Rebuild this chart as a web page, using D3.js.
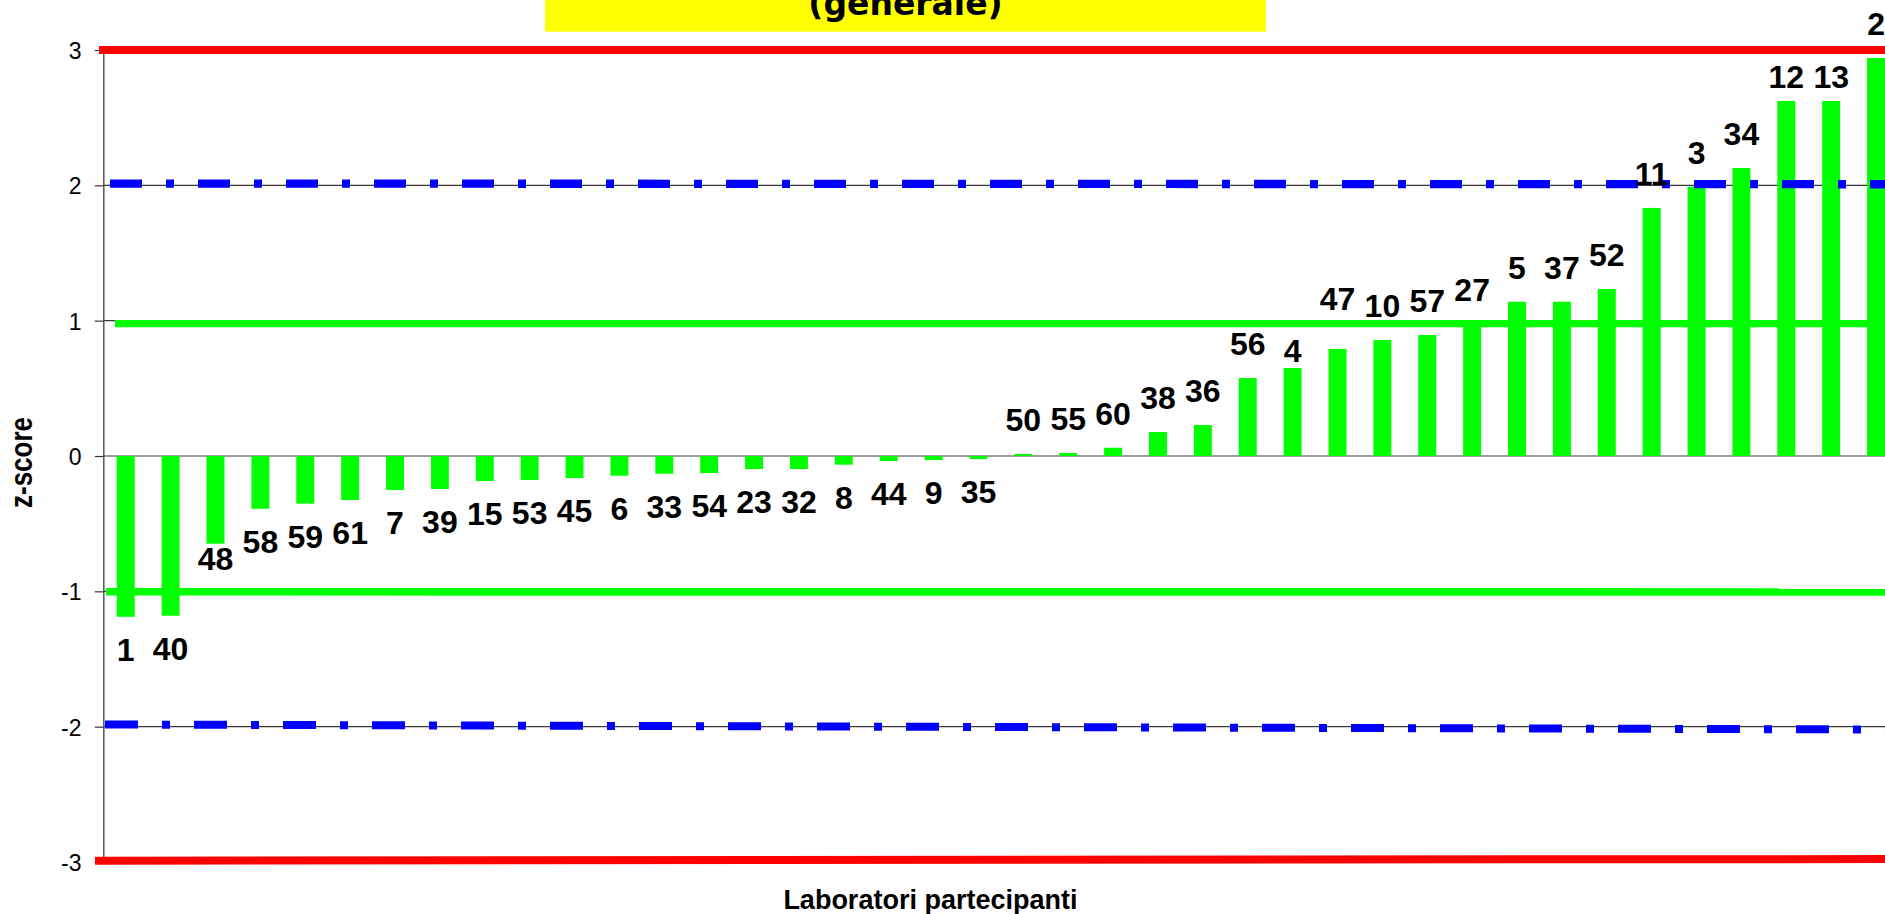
<!DOCTYPE html>
<html>
<head>
<meta charset="utf-8">
<script src="https://cdn.jsdelivr.net/npm/d3@7"></script>
<style>
  html, body { margin: 0; padding: 0; background: #ffffff; overflow: hidden; }
  svg { display: block; }
</style>
</head>
<body>
<svg id="chart" width="1885" height="914"></svg>
<script>
// Participating laboratories, sorted by z-score
const labs = ["1","40","48","58","59","61","7","39","15","53","45","6","33","54","23","32","8","44","9","35",
              "50","55","60","38","36","56","4","47","10","57","27","5","37","52","11","3","34","12","13","2"];
const zScores = [-1.188,-1.180,-0.648,-0.390,-0.352,-0.325,-0.251,-0.244,-0.185,-0.177,-0.163,-0.146,-0.131,-0.126,-0.096,-0.096,-0.064,-0.037,-0.030,-0.022,
                 0.015,0.022,0.061,0.177,0.229,0.576,0.650,0.791,0.857,0.894,0.975,1.140,1.140,1.234,1.833,1.990,2.128,2.623,2.623,2.941];
const yTicks = [-3, -2, -1, 0, 1, 2, 3];

// Limit lines (value at the left end, value at the right end)
const limitNames = ["+3", "+2", "+1", "-1", "-2", "-3"];
const limitStart = [3.0, 2.013, 0.978, -1.003, -1.984, -2.990];
const limitEnd   = [3.0, 2.008, 0.978, -1.005, -2.021, -2.978];

const titleText = "(generale)";
const xTitle = "Laboratori partecipanti";
const yTitle = "z-score";

// ---- layout & style ----
const W = 1885, H = 914;
const axisX = 103.3, plotRight = 1898.5;
const limitColor = ["#ff0000", "#0000ff", "#00ff00", "#00ff00", "#0000ff", "#ff0000"];
const limitWidth = [8, 8.3, 7.3, 7.7, 8, 8];
const limitDash  = [null, "32,24,8,24", null, null, "33,24,8,24", null];
const limitX0    = [99, 110, 115, 106, 105, 95];
// individual label shifts (px, + = down)
const labelShift = { "47": -16, "12": 10, "13": 10, "4": 17, "48": -18 };

const svg = d3.select("#chart");
svg.append("rect").attr("width", W).attr("height", H).attr("fill", "#ffffff");

const x = d3.scaleBand().domain(labs).range([axisX, plotRight]).paddingInner(0.6).paddingOuter(0.3);
const y = d3.scaleLinear().domain([-3, 3]).range([862, 50]);

const data = labs.map((l, i) => ({ lab: l, z: zScores[i] }));

// title box
svg.append("rect").attr("x", 545).attr("y", -10).attr("width", 721).attr("height", 41.7).attr("fill", "#ffff00");
svg.append("text").attr("x", 905.5).attr("y", 14.5).attr("text-anchor", "middle")
  .attr("font-family", "'DejaVu Sans', Verdana, sans-serif").attr("font-weight", "bold")
  .attr("font-size", 33).attr("fill", "#000").text(titleText);

// gridlines
svg.append("g").selectAll("line").data(yTicks).join("line")
  .attr("x1", axisX).attr("x2", W)
  .attr("y1", d => y(d)).attr("y2", d => y(d))
  .attr("stroke", "#3a3a3a").attr("stroke-width", 1.2);

// y axis (ticks only, labels drawn below)
const yAxis = d3.axisLeft(y).tickValues(yTicks).tickSize(8.5).tickSizeOuter(0).tickFormat(() => "");
const gAxis = svg.append("g").attr("transform", `translate(${axisX},0)`).call(yAxis);
gAxis.select(".domain").attr("stroke", "#555").attr("stroke-width", 1.5);
gAxis.selectAll(".tick line").attr("stroke", "#333").attr("stroke-width", 1.2);

svg.append("g").selectAll("text").data(yTicks).join("text")
  .attr("x", 81.5)
  .attr("y", d => y(d) + 9)
  .attr("text-anchor", "end")
  .attr("font-family", "'Liberation Sans', Arial, sans-serif")
  .attr("font-size", 23).attr("fill", "#000")
  .text(d => String(d));

// bars
svg.append("g").selectAll("rect").data(data).join("rect")
  .attr("x", d => x(d.lab))
  .attr("width", x.bandwidth())
  .attr("y", d => Math.min(y(d.z), y(0)))
  .attr("height", d => Math.abs(y(d.z) - y(0)))
  .attr("fill", "#00ff00");

// limit lines
const lineGen = d3.line().x(p => p[0]).y(p => y(p[1]));
svg.append("g").selectAll("path").data(limitNames).join("path")
  .attr("d", (n, i) => lineGen([[limitX0[i], limitStart[i]], [plotRight, limitEnd[i]]]))
  .attr("fill", "none")
  .attr("stroke", (n, i) => limitColor[i])
  .attr("stroke-width", (n, i) => limitWidth[i])
  .attr("stroke-dasharray", (n, i) => limitDash[i]);

// lab labels
svg.append("g").selectAll("text").data(data).join("text")
  .attr("x", d => x(d.lab) + x.bandwidth() / 2)
  .attr("y", d => (d.z >= 0 ? y(d.z) - 23 : y(d.z) + 44) + (labelShift[d.lab] || 0))
  .attr("text-anchor", "middle")
  .attr("font-family", "'Liberation Sans', Arial, sans-serif")
  .attr("font-weight", "bold").attr("font-size", 32).attr("fill", "#000")
  .text(d => d.lab);

// axis titles
svg.append("text").attr("x", 930.4).attr("y", 909).attr("text-anchor", "middle")
  .attr("font-family", "'Liberation Sans', Arial, sans-serif")
  .attr("font-weight", "bold").attr("font-size", 27).attr("fill", "#000").text(xTitle);

svg.append("text")
  .attr("transform", "translate(31.7,462.5) rotate(-90) scale(1,1.2)")
  .attr("text-anchor", "middle")
  .attr("font-family", "'Liberation Sans', Arial, sans-serif")
  .attr("font-weight", "bold").attr("font-size", 26).attr("fill", "#000").text(yTitle);
</script>
</body>
</html>
